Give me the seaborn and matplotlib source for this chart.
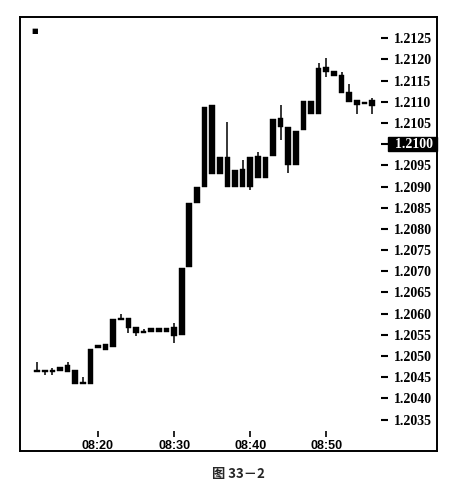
"""
1 分鐘 K 線圖 (圖 33-2) 重繪
"""
import numpy as np
import pandas as pd
import matplotlib
matplotlib.use('Agg')
import matplotlib.pyplot as plt
from matplotlib.transforms import blended_transform_factory
import seaborn as sns

# 每分鐘 K 線數據 (08:12 - 08:56)
opens = [1.20462, 1.20467, 1.20462, 1.20465, 1.20479, 1.20467, 1.20439, 1.20434, 1.20519,
         1.20514, 1.20521, 1.20590, 1.20590, 1.20569, 1.20559, 1.20566, 1.20557, 1.20566,
         1.20547, 1.20550, 1.20710, 1.20861, 1.20899, 1.21092, 1.20929, 1.20969, 1.20899,
         1.20899, 1.20969, 1.20920, 1.20969, 1.20972, 1.21061, 1.21040, 1.20951, 1.21033,
         1.21101, 1.21071, 1.21170, 1.21172, 1.21163, 1.21123, 1.21104, 1.21094, 1.21090]
highs = [1.20486, 1.20467, 1.20472, 1.20474, 1.20486, 1.20467, 1.20451, 1.20517, 1.20526,
         1.20528, 1.20587, 1.20599, 1.20590, 1.20569, 1.20564, 1.20566, 1.20566, 1.20566,
         1.20578, 1.20708, 1.20861, 1.20899, 1.21087, 1.21092, 1.20969, 1.21052, 1.20939,
         1.20962, 1.20969, 1.20981, 1.20969, 1.21059, 1.21092, 1.21040, 1.21031, 1.21101,
         1.21101, 1.21191, 1.21203, 1.21172, 1.21170, 1.21142, 1.21104, 1.21099, 1.21109]
lows = [1.20462, 1.20455, 1.20455, 1.20465, 1.20462, 1.20434, 1.20434, 1.20434, 1.20519,
        1.20514, 1.20521, 1.20585, 1.20554, 1.20547, 1.20554, 1.20557, 1.20557, 1.20557,
        1.20531, 1.20550, 1.20710, 1.20861, 1.20899, 1.20929, 1.20929, 1.20899, 1.20899,
        1.20899, 1.20892, 1.20920, 1.20920, 1.20972, 1.21009, 1.20932, 1.20951, 1.21033,
        1.21071, 1.21071, 1.21158, 1.21160, 1.21120, 1.21099, 1.21071, 1.21094, 1.21071]
closes = [1.20467, 1.20462, 1.20467, 1.20474, 1.20462, 1.20434, 1.20434, 1.20517, 1.20526,
          1.20528, 1.20587, 1.20585, 1.20566, 1.20554, 1.20554, 1.20557, 1.20566, 1.20557,
          1.20569, 1.20708, 1.20861, 1.20899, 1.21087, 1.20929, 1.20969, 1.20899, 1.20939,
          1.20941, 1.20899, 1.20972, 1.20920, 1.21059, 1.21040, 1.20951, 1.21031, 1.21101,
          1.21071, 1.21179, 1.21182, 1.21160, 1.21120, 1.21099, 1.21092, 1.21099, 1.21104]

start_time = "08:12"
time_ticks = ["08:20", "08:30", "08:40", "08:50"]
price_ticks = [1.2125, 1.2120, 1.2115, 1.2110, 1.2105, 1.2100, 1.2095, 1.2090, 1.2085,
               1.2080, 1.2075, 1.2070, 1.2065, 1.2060, 1.2055, 1.2050, 1.2045, 1.2040,
               1.2035]
last_price = 1.2100
caption = "图 33－2"


def to_minutes(t):
    hh, mm = t.split(':')
    return int(hh) * 60 + int(mm)


# 整理成 DataFrame
df = pd.DataFrame({'open': opens, 'high': highs, 'low': lows, 'close': closes})
df['minute'] = to_minutes(start_time) + np.arange(len(df))
df['body_low'] = df[['open', 'close']].min(axis=1)
df['body_h'] = (df['close'] - df['open']).abs().clip(lower=0.00003)

sns.set_theme(style='white', rc={'axes.edgecolor': 'black', 'axes.linewidth': 1.4})
plt.rcParams['font.family'] = ['Liberation Sans', 'DejaVu Sans']

fig = plt.figure(figsize=(4.58, 4.88), dpi=100)
ax = fig.add_axes([20 / 458, 37 / 488, 417 / 458, 434 / 488])

# K 線：影線 + 實體
ax.vlines(df['minute'], df['low'], df['high'], color='black', linewidth=1.1)
ax.bar(df['minute'], df['body_h'], bottom=df['body_low'], width=0.74,
       color='black', edgecolor='black', linewidth=0.3)

m0 = df['minute'].iloc[0]
m1 = df['minute'].iloc[-1]
ax.set_xlim(m0 - 2.25, m1 + 8.55)
ax.set_ylim(1.20276, 1.21300)
ax.set_xticks([])
ax.set_yticks([])

# 時間軸 (畫在框內)
secx = ax.secondary_xaxis(0.046)
secx.set_xticks([to_minutes(t) for t in time_ticks], labels=time_ticks,
                fontweight='bold', fontsize=9, family='Liberation Sans')
secx.tick_params(axis='x', bottom=True, direction='out', length=4, width=1.2,
                 pad=2.5, colors='black')
for s in secx.spines.values():
    s.set_visible(False)

# 價格軸 (畫在框內)，當前價格的標籤另外用黑底白字畫
price_labels = ['' if abs(v - last_price) < 1e-9 else f'{v:.4f}' for v in price_ticks]
secy = ax.secondary_yaxis(0.866)
secy.set_yticks(price_ticks, labels=price_labels,
                fontweight='bold', fontsize=10, family='Liberation Serif')
secy.tick_params(axis='y', right=True, direction='out', length=5, width=1.5,
                 pad=4, colors='black')
for s in secy.spines.values():
    s.set_visible(False)

# 當前價格標記
trans = blended_transform_factory(ax.transAxes, ax.transData)
ax.text(0.999, last_price, f'  {last_price:.4f} ', transform=trans, ha='right', va='center',
        color='white', fontsize=10, fontweight='bold', family='Liberation Serif',
        bbox=dict(boxstyle='square,pad=0.02', facecolor='black', edgecolor='black'),
        zorder=5)

# 左上角小圖示
ax.text(0.035, 0.968, '■', transform=ax.transAxes, fontsize=5, ha='center', va='center',
        family='DejaVu Sans', color='black')

fig.text(238 / 458, 1 - 474 / 488, caption, ha='center', va='center', fontsize=9.5,
         fontweight='bold', family=['Noto Sans CJK SC', 'DejaVu Sans'])

fig.savefig('out.png', dpi=100, facecolor='white')
